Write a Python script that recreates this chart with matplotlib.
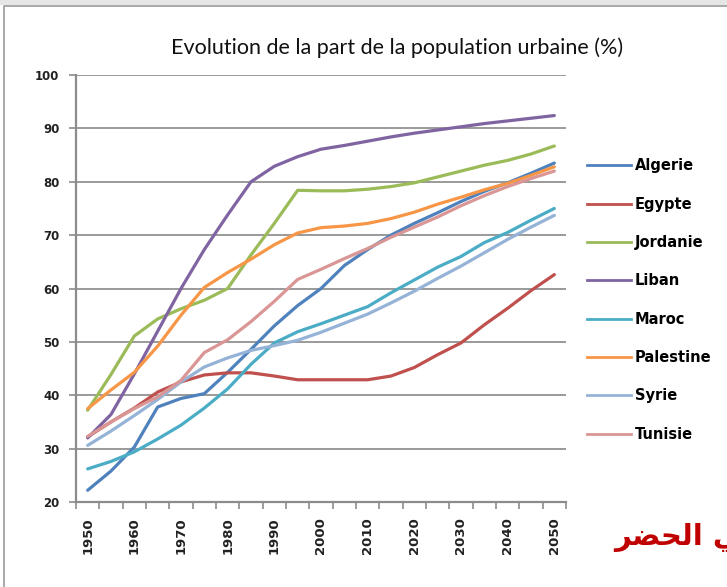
import numpy as np
import matplotlib.pyplot as plt
from matplotlib.patches import Rectangle
from matplotlib.lines import Line2D

# Données (part urbaine en %, pas de 5 ans)
years = list(range(1950, 2051, 5))

algerie = [22.2, 25.8, 30.3, 37.8, 39.4, 40.3, 44.3, 48.6, 53.0, 56.8, 60.0,
           64.3, 67.3, 70.0, 72.2, 74.2, 76.3, 78.2, 79.8, 81.6, 83.5]
egypte = [32.2, 35.0, 37.6, 40.6, 42.5, 43.8, 44.2, 44.2, 43.6, 42.9, 42.9,
          42.9, 42.9, 43.6, 45.2, 47.6, 49.8, 53.2, 56.3, 59.6, 62.6]
jordanie = [37.2, 43.9, 51.1, 54.3, 56.2, 57.8, 60.0, 66.3, 72.2, 78.4, 78.3,
            78.3, 78.6, 79.1, 79.8, 80.9, 82.0, 83.1, 84.0, 85.2, 86.7]
liban = [32.0, 36.4, 44.0, 52.0, 60.0, 67.3, 73.8, 80.0, 82.9, 84.7, 86.1,
         86.8, 87.6, 88.4, 89.1, 89.7, 90.3, 90.9, 91.4, 91.9, 92.4]
maroc = [26.2, 27.6, 29.4, 31.8, 34.4, 37.6, 41.2, 45.8, 49.8, 51.9, 53.4,
         55.0, 56.6, 59.2, 61.6, 64.0, 66.0, 68.6, 70.5, 72.8, 75.0]
palestine = [37.5, 41.0, 44.3, 49.2, 55.0, 60.2, 63.0, 65.5, 68.2, 70.4, 71.4,
             71.7, 72.2, 73.1, 74.3, 75.8, 77.1, 78.5, 79.7, 81.2, 82.8]
syrie = [30.6, 33.3, 36.2, 39.2, 42.5, 45.3, 47.0, 48.4, 49.3, 50.3, 51.8,
         53.5, 55.2, 57.3, 59.5, 61.9, 64.2, 66.7, 69.2, 71.5, 73.7]
tunisie = [32.3, 35.0, 37.5, 39.7, 42.8, 48.0, 50.4, 53.8, 57.6, 61.7, 63.6,
           65.6, 67.5, 69.6, 71.5, 73.4, 75.5, 77.4, 79.1, 80.6, 82.0]

names = ["Algerie", "Egypte", "Jordanie", "Liban", "Maroc", "Palestine", "Syrie", "Tunisie"]
series = [algerie, egypte, jordanie, liban, maroc, palestine, syrie, tunisie]
colors = ["#4F81BD", "#C0504D", "#9BBB59", "#8064A2", "#4BACC6", "#F79646", "#95B3D7", "#D99694"]

title = "Evolution de la part de la population urbaine (%)"
# "... في الحضر" en formes de présentation arabes, ordre visuel (gauche -> droite)
arabic_note = "\uFEAE\uFEC0\uFEA4\uFEDF\uFE8D \uFEF2\uFED3"

fig = plt.figure(figsize=(7.27, 5.87), dpi=100)
ax = fig.add_axes([76 / 727, 1 - 502 / 587, 490 / 727, 427 / 587])

for name, vals, c in zip(names, series, colors):
    ax.plot(years, vals, color=c, lw=2.3, label=name, solid_capstyle="round")

ax.set_xlim(1947.5, 2052.5)
ax.set_ylim(20, 100)
ax.set_yticks(range(20, 101, 10))
ax.set_xticks(years[::2])
ax.set_xticks(np.arange(1947.5, 2053, 5), minor=True)
ax.set_xticklabels([str(y) for y in years[::2]], rotation=90)

ax.tick_params(axis="x", which="major", length=0, pad=11)
ax.tick_params(axis="x", which="minor", length=5, width=1.2, color="#8c8c8c", direction="out")
ax.tick_params(axis="y", length=5, width=1.2, color="#8c8c8c", direction="out", pad=7)
for lab in ax.get_xticklabels():
    lab.set_fontfamily("DejaVu Sans")
    lab.set_fontweight("bold")
    lab.set_fontsize(9.5)
    lab.set_color("#222222")
for lab in ax.get_yticklabels():
    lab.set_fontfamily("DejaVu Sans")
    lab.set_fontweight("bold")
    lab.set_fontsize(8.5)
    lab.set_color("#222222")

ax.grid(axis="y", color="#9a9a9a", lw=1.4)
ax.set_axisbelow(True)
for s in ["top", "right"]:
    ax.spines[s].set_visible(False)
for s in ["left", "bottom"]:
    ax.spines[s].set_color("#8c8c8c")
    ax.spines[s].set_linewidth(1.6)

fig.text(397 / 727, 1 - 48 / 587, title, ha="center", va="center",
         fontsize=15.5, family="Lato", color="#111111")

handles = [Line2D([], [], color=c, lw=2.0) for c in colors]
fig.legend(handles, names, loc="center left", bbox_to_anchor=(587 / 727, 1 - 300 / 587),
           frameon=False, borderpad=0, borderaxespad=0, handlelength=3.0,
           handletextpad=0.3, labelspacing=1.6,
           prop={"family": "DejaVu Sans", "weight": "bold", "size": 10.5})

fig.text(614 / 727, 1 - 545 / 587, arabic_note, ha="left", va="baseline",
         fontsize=21, family="DejaVu Sans", fontweight="bold", color="#C00000")

# cadre de la fenêtre
fig.patches.append(Rectangle((0, 1 - 5 / 587), 1, 5 / 587, transform=fig.transFigure,
                             facecolor="#e6e6e6", edgecolor="none"))
fig.lines.append(Line2D([4 / 727, 4 / 727, 1], [0, 1 - 6 / 587, 1 - 6 / 587],
                        transform=fig.transFigure, color="#9a9a9a", lw=1.2))

fig.savefig("out.png", dpi=100)
